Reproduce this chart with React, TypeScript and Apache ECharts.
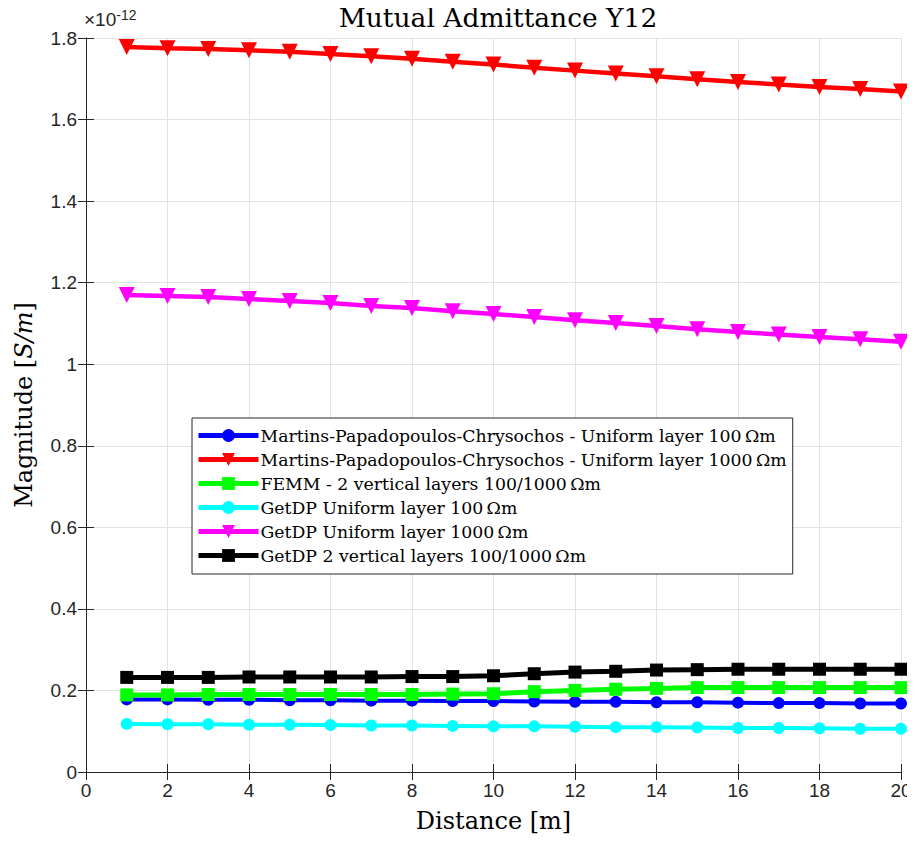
import React, { useEffect, useRef } from "react";
import * as echarts from "echarts";

// Distance between conductors [m]
const distances = [1, 2, 3, 4, 5, 6, 7, 8, 9, 10, 11, 12, 13, 14, 15, 16, 17, 18, 19, 20];

// |Y12| values, in units of 1e-12 S/m
const mpcUniform100 = [0.178, 0.178, 0.177, 0.177, 0.176, 0.176, 0.175, 0.175, 0.174, 0.174, 0.173, 0.172, 0.172, 0.171, 0.171, 0.170, 0.169, 0.169, 0.168, 0.168];
const mpcUniform1000 = [1.778, 1.775, 1.773, 1.770, 1.766, 1.761, 1.755, 1.749, 1.742, 1.735, 1.727, 1.720, 1.713, 1.706, 1.699, 1.692, 1.686, 1.680, 1.675, 1.669];
const femmTwoLayers = [0.189, 0.189, 0.190, 0.190, 0.190, 0.190, 0.190, 0.190, 0.191, 0.192, 0.197, 0.200, 0.203, 0.205, 0.207, 0.207, 0.207, 0.207, 0.207, 0.207];
const getdpUniform100 = [0.118, 0.117, 0.117, 0.116, 0.116, 0.115, 0.114, 0.114, 0.113, 0.112, 0.112, 0.111, 0.110, 0.110, 0.109, 0.108, 0.108, 0.107, 0.106, 0.106];
const getdpUniform1000 = [1.170, 1.167, 1.165, 1.160, 1.155, 1.150, 1.143, 1.138, 1.130, 1.123, 1.116, 1.108, 1.101, 1.094, 1.086, 1.079, 1.073, 1.067, 1.061, 1.055];
const getdpTwoLayers = [0.232, 0.232, 0.232, 0.233, 0.233, 0.233, 0.233, 0.234, 0.234, 0.236, 0.241, 0.245, 0.247, 0.250, 0.251, 0.252, 0.252, 0.252, 0.252, 0.252];

const seriesNames = [
  "Martins-Papadopoulos-Chrysochos - Uniform layer 100\u2009\u03A9m",
  "Martins-Papadopoulos-Chrysochos - Uniform layer 1000\u2009\u03A9m",
  "FEMM - 2 vertical layers 100/1000\u2009\u03A9m",
  "GetDP Uniform layer 100\u2009\u03A9m",
  "GetDP Uniform layer 1000\u2009\u03A9m",
  "GetDP 2 vertical layers 100/1000\u2009\u03A9m",
];

const SERIF = "'DejaVu Serif', 'Liberation Serif', serif";
const SANS = "'Liberation Sans', Arial, Helvetica, sans-serif";
const AXIS_COLOR = "#262626";

function makeSeries(
  name: string,
  values: number[],
  color: string,
  symbol: string,
  symbolSize: number,
  rotate: number,
  width: number
) {
  return {
    name,
    type: "line",
    data: distances.map((d, i) => [d, values[i]]),
    symbol,
    symbolSize,
    symbolRotate: rotate,
    showAllSymbol: true,
    lineStyle: { color, width },
    itemStyle: { color, borderWidth: 0 },
    xAxisIndex: 0,
    yAxisIndex: 0,
    z: 3,
  };
}

export default function App() {
  const ref = useRef<HTMLDivElement>(null);

  useEffect(() => {
    if (!ref.current) return;
    const chart = echarts.init(ref.current, undefined, { renderer: "svg" });

    const gridLine = { show: true, lineStyle: { color: "#e3e3e3", width: 1 } };
    const tick = { show: true, inside: true, length: 8, lineStyle: { color: AXIS_COLOR, width: 1 } };
    const axisLine = { show: true, lineStyle: { color: AXIS_COLOR, width: 1 } };

    chart.setOption({
      animation: false,
      backgroundColor: "#ffffff",
      title: {
        text: "Mutual Admittance Y12",
        left: 493,
        textAlign: "center",
        top: -1,
        textStyle: { fontFamily: SERIF, fontSize: 26.5, fontWeight: "normal", color: "#000" },
      },
      grid: { left: 86, right: 14, top: 38, bottom: 71 },
      legend: {
        orient: "vertical",
        left: 192,
        top: 418,
        padding: [9, 6, 10, 4],
        itemGap: 7,
        itemWidth: 60,
        itemHeight: 16,
        backgroundColor: "#ffffff",
        borderColor: AXIS_COLOR,
        borderWidth: 1,
        borderRadius: 0,
        lineStyle: { width: 5 },
        textStyle: { fontFamily: SERIF, fontSize: 17.3, color: "#000", padding: [0, 0, 0, -3] },
        data: seriesNames,
      },
      xAxis: [
        {
          type: "value",
          min: 0,
          max: 20,
          interval: 2,
          position: "bottom",
          name: "Distance [m]",
          nameLocation: "middle",
          nameGap: 37,
          nameTextStyle: { fontFamily: SERIF, fontSize: 24, color: "#000" },
          axisLine,
          axisTick: tick,
          axisLabel: { fontFamily: SANS, fontSize: 19, color: AXIS_COLOR, margin: 9 },
          splitLine: gridLine,
        },
        {
          type: "value",
          min: 0,
          max: 20,
          interval: 2,
          position: "top",
          axisLine,
          axisTick: tick,
          axisLabel: { show: false },
          splitLine: { show: false },
        },
      ],
      yAxis: [
        {
          type: "value",
          min: 0,
          max: 1.8,
          interval: 0.2,
          position: "left",
          name: "Magnitude [{i|S/m}]",
          nameLocation: "middle",
          nameGap: 50,
          nameRotate: 90,
          nameTextStyle: {
            fontFamily: SERIF,
            fontSize: 24,
            color: "#000",
            rich: { i: { fontFamily: SERIF, fontSize: 24, fontStyle: "italic", color: "#000" } },
          },
          axisLine,
          axisTick: tick,
          axisLabel: {
            fontFamily: SANS,
            fontSize: 19,
            color: AXIS_COLOR,
            margin: 9,
            formatter: (v: number) => String(parseFloat(v.toFixed(1))),
          },
          splitLine: gridLine,
        },
        {
          type: "value",
          min: 0,
          max: 1.8,
          interval: 0.2,
          position: "right",
          axisLine,
          axisTick: tick,
          axisLabel: { show: false },
          splitLine: { show: false },
        },
      ],
      graphic: [
        {
          type: "text",
          left: 84,
          top: 8,
          style: {
            text: "\u00D710{s|-12}",
            fontFamily: SANS,
            fontSize: 19,
            fill: AXIS_COLOR,
            rich: { s: { fontFamily: SANS, fontSize: 14, fill: AXIS_COLOR, verticalAlign: "top", padding: [0, 0, 9, 0] } },
          },
        },
      ],
      series: [
        makeSeries(seriesNames[0], mpcUniform100, "#0000ff", "circle", 12, 0, 4),
        makeSeries(seriesNames[1], mpcUniform1000, "#ff0000", "triangle", 16, 180, 4.5),
        makeSeries(seriesNames[2], femmTwoLayers, "#00ff00", "rect", 13, 0, 5),
        makeSeries(seriesNames[3], getdpUniform100, "#00ffff", "circle", 12, 0, 4),
        makeSeries(seriesNames[4], getdpUniform1000, "#ff00ff", "triangle", 16, 180, 4.5),
        makeSeries(seriesNames[5], getdpTwoLayers, "#000000", "rect", 13, 0, 5),
      ],
    });

    return () => chart.dispose();
  }, []);

  return <div ref={ref} style={{ width: 915, height: 843, margin: -8 }} />;
}
